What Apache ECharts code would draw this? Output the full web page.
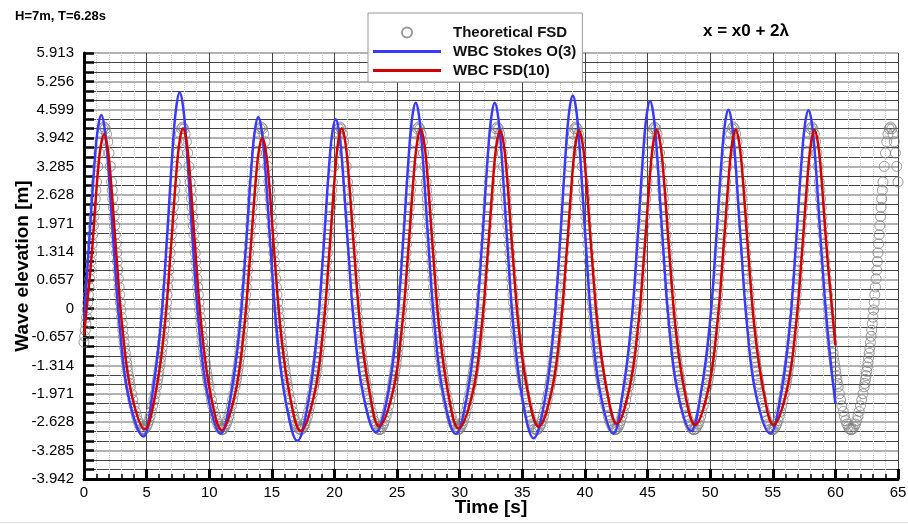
<!DOCTYPE html>
<html>
<head>
<meta charset="utf-8">
<script src="https://cdn.jsdelivr.net/npm/echarts@6/dist/echarts.min.js"></script>
<style>
html, body { margin: 0; padding: 0; background: #fff; }
#chart { width: 908px; height: 524px; }
</style>
</head>
<body>
<div id="chart"></div>
<script>
// theoretical FSD profile over one period, time offset from crest [s] and elevation [m]
let theoryPhase = [-3.1, -3.0, -2.9, -2.8, -2.7, -2.6, -2.5, -2.4, -2.3, -2.2,
    -2.1, -2.05, -2.0, -1.95, -1.9, -1.85, -1.8, -1.75, -1.7, -1.65, -1.6, -1.55, -1.5, -1.45, -1.4,
    -1.35, -1.3, -1.25, -1.2, -1.15, -1.1, -1.05, -1.0, -0.95, -0.9, -0.85, -0.8, -0.75, -0.7, -0.65,
    -0.6, -0.5, -0.4, -0.3, -0.2, -0.1, 0,
    0.1, 0.2, 0.3, 0.4, 0.5, 0.6,
    0.65, 0.7, 0.75, 0.8, 0.85, 0.9, 0.95, 1.0, 1.05, 1.1, 1.15, 1.2, 1.25, 1.3, 1.35, 1.4,
    1.45, 1.5, 1.55, 1.6, 1.65, 1.7, 1.75, 1.8, 1.85, 1.9, 1.95, 2.0, 2.05, 2.1,
    2.2, 2.3, 2.4, 2.5, 2.6, 2.7, 2.8, 2.9, 3.0, 3.1];
let theoryElev = [-2.80, -2.78, -2.73, -2.67, -2.59, -2.49, -2.38, -2.25, -2.11, -1.97,
    -1.81, -1.73, -1.64, -1.55, -1.45, -1.35, -1.25, -1.14, -1.03, -0.91, -0.78, -0.64, -0.50, -0.35, -0.20,
    -0.03, 0.14, 0.32, 0.50, 0.69, 0.89, 1.09, 1.29, 1.50, 1.71, 1.92, 2.13, 2.34, 2.54, 2.74,
    2.93, 3.29, 3.60, 3.86, 4.04, 4.16, 4.20,
    4.16, 4.04, 3.86, 3.60, 3.29, 2.93,
    2.74, 2.54, 2.34, 2.13, 1.92, 1.71, 1.50, 1.29, 1.09, 0.89, 0.69, 0.50, 0.32, 0.14, -0.03, -0.20,
    -0.35, -0.50, -0.64, -0.78, -0.91, -1.03, -1.14, -1.25, -1.35, -1.45, -1.55, -1.64, -1.73, -1.81,
    -1.97, -2.11, -2.25, -2.38, -2.49, -2.59, -2.67, -2.73, -2.78, -2.80];
let theoryCrest = [1.6, 7.88, 14.16, 20.44, 26.72, 33.0, 39.28, 45.56, 51.84, 58.12, 64.4];

let blueTime = [0.00, 0.38, 0.88, 1.13, 1.38, 1.63, 1.88, 2.38, 2.88, 3.58, 4.74,
    5.44, 6.14, 6.64, 7.14, 7.39, 7.64, 7.89, 8.14, 8.64, 9.14, 9.84, 10.92,
    11.72, 12.42, 12.92, 13.42, 13.67, 13.92, 14.17, 14.42, 14.92, 15.42, 16.12, 17.04,
    17.90, 18.60, 19.10, 19.60, 19.85, 20.10, 20.35, 20.60, 21.10, 21.60, 22.30, 23.30,
    24.29, 24.99, 25.49, 25.99, 26.24, 26.49, 26.74, 26.99, 27.49, 27.99, 28.69, 29.69,
    30.60, 31.30, 31.80, 32.30, 32.55, 32.80, 33.05, 33.30, 33.80, 34.30, 35.00, 35.90,
    36.83, 37.53, 38.03, 38.53, 38.78, 39.03, 39.28, 39.53, 40.03, 40.53, 41.23, 42.27,
    43.00, 43.70, 44.20, 44.70, 44.95, 45.20, 45.45, 45.70, 46.20, 46.70, 47.40, 48.48,
    49.26, 49.96, 50.46, 50.96, 51.21, 51.46, 51.71, 51.96, 52.46, 52.96, 53.66, 54.79,
    55.65, 56.35, 56.85, 57.35, 57.60, 57.85, 58.10, 58.35, 58.85, 59.35, 60.00];
let blueElev = [-0.30, 1.41, 3.52, 4.21, 4.48, 4.21, 3.51, 1.39, -0.51, -2.07, -2.96,
    -2.01, -0.34, 1.69, 3.97, 4.71, 5.00, 4.72, 3.97, 1.72, -0.29, -1.95, -2.89,
    -2.02, -0.48, 1.39, 3.48, 4.17, 4.43, 4.16, 3.46, 1.31, -0.60, -2.17, -3.06,
    -2.17, -0.61, 1.29, 3.41, 4.11, 4.38, 4.12, 3.44, 1.37, -0.48, -2.00, -2.86,
    -1.95, -0.35, 1.59, 3.77, 4.49, 4.76, 4.48, 3.76, 1.57, -0.38, -1.99, -2.90,
    -1.99, -0.38, 1.57, 3.76, 4.48, 4.76, 4.48, 3.75, 1.53, -0.45, -2.08, -3.00,
    -2.06, -0.39, 1.63, 3.90, 4.64, 4.93, 4.65, 3.91, 1.68, -0.32, -1.96, -2.89,
    -1.98, -0.36, 1.60, 3.80, 4.52, 4.80, 4.53, 3.81, 1.63, -0.32, -1.92, -2.83,
    -1.95, -0.39, 1.51, 3.63, 4.33, 4.60, 4.33, 3.63, 1.48, -0.43, -2.00, -2.89,
    -2.00, -0.43, 1.48, 3.62, 4.32, 4.59, 4.33, 3.63, 1.48, -0.43, -2.20];

let redTime = [0.00, 0.60, 1.10, 1.35, 1.60, 1.85, 2.10, 2.60, 3.10, 3.80, 4.85,
    5.71, 6.41, 6.91, 7.41, 7.66, 7.91, 8.16, 8.41, 8.91, 9.41, 10.11, 11.00,
    12.04, 12.74, 13.24, 13.74, 13.99, 14.24, 14.49, 14.74, 15.24, 15.74, 16.44, 17.30,
    18.38, 19.08, 19.58, 20.08, 20.33, 20.58, 20.83, 21.08, 21.58, 22.08, 22.78, 23.56,
    24.68, 25.38, 25.88, 26.38, 26.63, 26.88, 27.13, 27.38, 27.88, 28.38, 29.08, 29.90,
    31.03, 31.73, 32.23, 32.73, 32.98, 33.23, 33.48, 33.73, 34.23, 34.73, 35.43, 36.30,
    37.33, 38.03, 38.53, 39.03, 39.28, 39.53, 39.78, 40.03, 40.53, 41.03, 41.73, 42.54,
    43.54, 44.24, 44.74, 45.24, 45.49, 45.74, 45.99, 46.24, 46.74, 47.24, 47.94, 48.80,
    49.84, 50.54, 51.04, 51.54, 51.79, 52.04, 52.29, 52.54, 53.04, 53.54, 54.24, 55.06,
    56.13, 56.83, 57.33, 57.83, 58.08, 58.33, 58.58, 58.83, 59.33, 60.00];
let redElev = [-0.60, 1.19, 3.14, 3.78, 4.03, 3.78, 3.14, 1.19, -0.55, -1.98, -2.79,
    -1.96, -0.50, 1.28, 3.27, 3.92, 4.17, 3.92, 3.26, 1.27, -0.51, -1.98, -2.81,
    -2.01, -0.59, 1.13, 3.06, 3.70, 3.94, 3.70, 3.06, 1.12, -0.60, -2.02, -2.83,
    -2.00, -0.53, 1.26, 3.26, 3.92, 4.17, 3.92, 3.27, 1.30, -0.45, -1.90, -2.72,
    -1.90, -0.46, 1.29, 3.26, 3.90, 4.15, 3.90, 3.25, 1.27, -0.49, -1.95, -2.77,
    -1.95, -0.50, 1.25, 3.22, 3.87, 4.12, 3.87, 3.23, 1.27, -0.48, -1.92, -2.73,
    -1.92, -0.48, 1.27, 3.23, 3.87, 4.12, 3.88, 3.24, 1.30, -0.44, -1.86, -2.67,
    -1.86, -0.43, 1.30, 3.25, 3.89, 4.13, 3.88, 3.24, 1.29, -0.45, -1.88, -2.69,
    -1.88, -0.44, 1.30, 3.25, 3.89, 4.14, 3.89, 3.25, 1.30, -0.44, -1.88, -2.69,
    -1.88, -0.45, 1.29, 3.24, 3.88, 4.13, 3.88, 3.24, 1.29, -0.85];

let seriesNames = ['Theoretical FSD', 'WBC Stokes O(3)', 'WBC FSD(10)'];

let font = "'Liberation Sans', Arial, sans-serif";
let lineIcon = 'path://M0,0H68V3H0Z';

function pairs(ts, vs) {
    let out = [];
    for (let i = 0; i < ts.length; i++) out.push([ts[i], vs[i]]);
    return out;
}

// same periodic profile placed at every crest of the theoretical wave
let theoryData = [];
for (let c of theoryCrest) {
    for (let i = 0; i < theoryPhase.length; i++) {
        let t = +(c + theoryPhase[i]).toFixed(3);
        if (t >= 0 && t <= 65) theoryData.push([t, theoryElev[i]]);
    }
}

let myChart = echarts.init(document.getElementById('chart'));
let option = {
    animation: false,
    backgroundColor: '#fff',
    textStyle: { fontFamily: font },
    grid: { left: 84, right: 10, top: 53, bottom: 45, outerBoundsMode: 'none', containLabel: false },
    legend: {
        orient: 'vertical',
        left: 368,
        top: 13,
        padding: [12, 6, 4, 5],
        itemWidth: 68,
        itemHeight: 10,
        itemGap: 4,
        backgroundColor: '#fff',
        borderColor: '#999',
        borderWidth: 1,
        borderRadius: 0,
        textStyle: { fontSize: 15, fontWeight: 'bold', color: '#111', fontFamily: font, padding: [0, 0, 0, 7] },
        data: [
            { name: seriesNames[0] },
            { name: seriesNames[1], icon: lineIcon },
            { name: seriesNames[2], icon: lineIcon }
        ]
    },
    xAxis: {
        type: 'value',
        min: 0,
        max: 65,
        interval: 5,
        name: 'Time [s]',
        nameLocation: 'middle',
        nameGap: 19,
        nameMoveOverlap: false,
        nameTextStyle: { fontSize: 19, fontWeight: 'bold', color: '#000', fontFamily: font },
        axisLine: { show: true, onZero: false, lineStyle: { color: '#000', width: 3 } },
        axisTick: { show: true, inside: true, length: 10, lineStyle: { color: '#000', width: 3 } },
        minorTick: { show: true, splitNumber: 5, length: 5, lineStyle: { color: '#000', width: 1.5 } },
        axisLabel: { fontSize: 15, color: '#000', margin: 6, fontFamily: font },
        splitLine: { show: true, lineStyle: { color: '#444', width: 1 } },
        minorSplitLine: { show: true, lineStyle: { color: '#c8c8c8', width: 1, type: 'dotted' } }
    },
    yAxis: {
        type: 'value',
        min: -3.942,
        max: 5.913,
        interval: 0.657,
        name: 'Wave elevation [m]',
        nameLocation: 'middle',
        nameGap: 52,
        nameMoveOverlap: false,
        nameTextStyle: { fontSize: 19, fontWeight: 'bold', color: '#000', fontFamily: font },
        axisLine: { show: true, onZero: false, lineStyle: { color: '#000', width: 3 } },
        axisTick: { show: true, inside: true, length: 10, lineStyle: { color: '#000', width: 2.5 } },
        minorTick: { show: true, splitNumber: 3, length: 10, lineStyle: { color: '#000', width: 2.5 } },
        axisLabel: {
            fontSize: 15, color: '#000', margin: 10, fontFamily: font,
            formatter: function (v) {
                return Math.abs(v) < 1e-6 ? '0' : v.toFixed(3);
            }
        },
        splitLine: { show: true, lineStyle: { color: '#999', width: 1.5 } },
        minorSplitLine: { show: true, lineStyle: { color: '#444', width: 1 } }
    },
    graphic: [
        { type: 'text', left: 15, top: 10, style: { text: 'H=7m, T=6.28s', font: 'bold 13px ' + font, fill: '#000' } },
        { type: 'text', left: 703, top: 23, style: { text: 'x = x0 + 2λ', font: 'bold 17px ' + font, fill: '#000' } },
        { type: 'line', shape: { x1: 0, y1: 522.5, x2: 908, y2: 522.5 }, style: { stroke: '#ddd', lineWidth: 1 } }
    ],
    series: [
        {
            name: seriesNames[0],
            type: 'scatter',
            symbol: 'circle',
            symbolSize: 10,
            z: 2,
            itemStyle: { color: 'rgba(0,0,0,0)', borderColor: '#808080', borderWidth: 1 },
            data: theoryData
        },
        {
            name: seriesNames[1],
            type: 'line',
            symbol: 'none',
            showSymbol: false,
            smooth: 0.4,
            z: 3,
            lineStyle: { color: '#3a3aff', width: 2.5 },
            itemStyle: { color: '#3a3aff' },
            data: pairs(blueTime, blueElev)
        },
        {
            name: seriesNames[2],
            type: 'line',
            symbol: 'none',
            showSymbol: false,
            smooth: 0.4,
            z: 4,
            lineStyle: { color: '#d40000', width: 2.5 },
            itemStyle: { color: '#d40000' },
            data: pairs(redTime, redElev)
        }
    ]
};
myChart.setOption(option);
</script>
</body>
</html>
